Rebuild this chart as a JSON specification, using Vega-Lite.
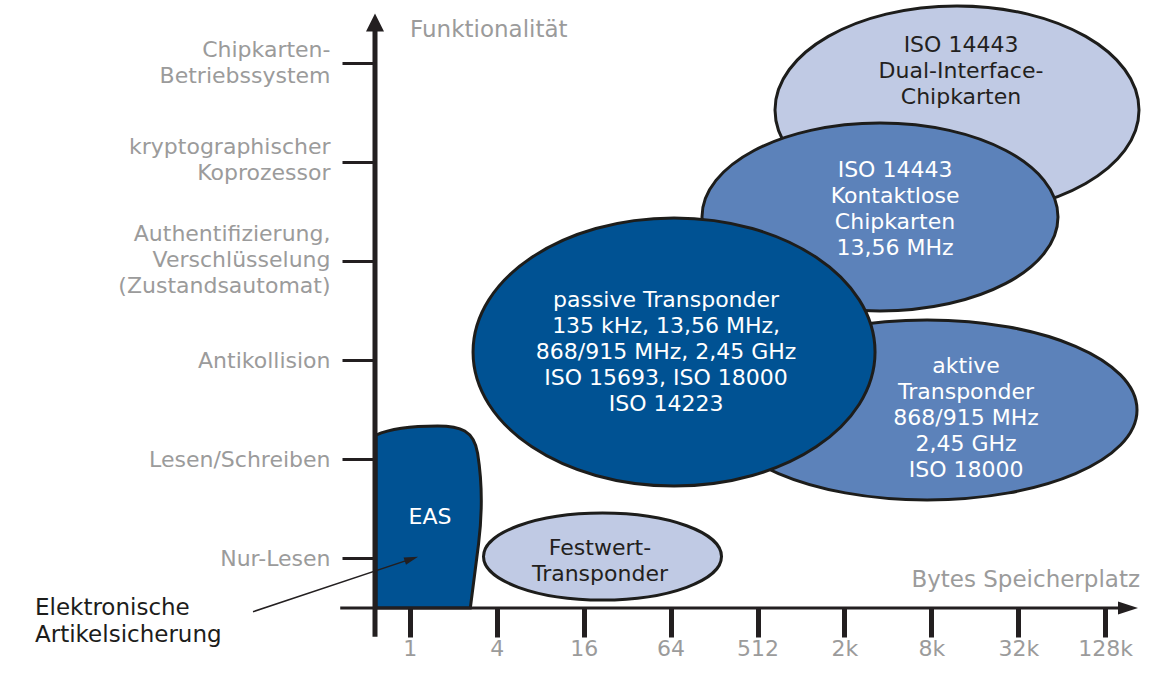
{
  "$schema": "https://vega.github.io/schema/vega-lite/v6.json",
  "width": 765,
  "height": 598,
  "autosize": {"type": "none"},
  "padding": {"left": 375, "top": 10, "right": 14, "bottom": 68},
  "background": "#ffffff",
  "config": {"view": {"stroke": null}, "font": "DejaVu Sans"},
  "datasets": {
    "regions": [
      {"name": "Dual", "x": 7.295, "y": 5.522},
      {"name": "Kontaktlos", "x": 6.409, "y": 4.443},
      {"name": "Aktiv", "x": 6.95, "y": 2.497},
      {"name": "Passiv", "x": 4.04, "y": 3.081},
      {"name": "Festwert", "x": 3.217, "y": 1.019},
      {"name": "EAS", "x": 1.215, "y": 1.418}
    ],
    "regionTexts": [
      {"name": "Dual", "x": 7.341, "y": 6.177, "label": "ISO 14443\nDual-Interface-\nChipkarten", "hintergrund": "hell"},
      {"name": "Kontaktlos", "x": 6.582, "y": 4.917, "label": "ISO 14443\nKontaktlose\nChipkarten\n13,56 MHz", "hintergrund": "dunkel"},
      {"name": "Passiv", "x": 3.948, "y": 3.606, "label": "passive Transponder\n135 kHz, 13,56 MHz,\n868/915 MHz, 2,45 GHz\nISO 15693, ISO 18000\nISO 14223", "hintergrund": "dunkel"},
      {"name": "Aktiv", "x": 7.399, "y": 2.94, "label": "aktive\nTransponder\n868/915 MHz\n2,45 GHz\nISO 18000", "hintergrund": "dunkel"},
      {"name": "Festwert", "x": 3.188, "y": 1.105, "label": "Festwert-\nTransponder", "hintergrund": "hell"},
      {"name": "EAS", "x": 1.233, "y": 1.418, "label": "EAS", "hintergrund": "dunkel"}
    ]
  },
  "encoding": {
    "x": {
      "field": "x",
      "type": "quantitative",
      "scale": {"domain": [0.6, 9.4], "nice": false, "zero": false},
      "axis": {
        "values": [1, 2, 3, 4, 5, 6, 7, 8, 9],
        "labelExpr": "['', '1', '4', '16', '64', '512', '2k', '8k', '32k', '128k'][datum.value]",
        "domain": false,
        "grid": false,
        "tickSize": 29,
        "tickWidth": 5,
        "tickColor": "#231f20",
        "labelFontSize": 22,
        "labelColor": "#9b9b9b",
        "labelPadding": 1,
        "labelFlush": false,
        "labelOverlap": false,
        "title": null
      }
    },
    "y": {
      "field": "y",
      "type": "quantitative",
      "scale": {"domain": [0.5, 6.53], "nice": false, "zero": false},
      "axis": {
        "values": [1, 2, 3, 4, 5, 6],
        "labelExpr": "datum.value == 6 ? ['Chipkarten-', 'Betriebssystem'] : datum.value == 5 ? ['kryptographischer', 'Koprozessor'] : datum.value == 4 ? ['Authentifizierung,', 'Verschlüsselung', '(Zustandsautomat)'] : datum.value == 3 ? 'Antikollision' : datum.value == 2 ? 'Lesen/Schreiben' : 'Nur-Lesen'",
        "domain": false,
        "grid": false,
        "tickSize": 33,
        "tickWidth": 3,
        "tickColor": "#231f20",
        "labelFontSize": 22,
        "labelColor": "#9b9b9b",
        "labelPadding": 12,
        "labelLineHeight": 26,
        "labelLimit": 0,
        "labelAlign": "right",
        "labelBaseline": "middle",
        "labelFlush": false,
        "labelOverlap": false,
        "title": null,
        "labelOffset": {
          "condition": [
            {"test": "datum.value == 6", "value": -13},
            {"test": "datum.value == 5", "value": -15},
            {"test": "datum.value == 4", "value": -27}
          ],
          "value": 0
        }
      }
    }
  },
  "layer": [
    {
      "data": {"name": "regions"},
      "transform": [{"filter": "datum.name === 'Dual'"}],
      "mark": {"type": "point", "shape": "M-1,0C-1,-0.3156,-0.5523,-0.5714,0,-0.5714C0.5523,-0.5714,1,-0.3156,1,0C1,0.3156,0.5523,0.5714,0,0.5714C-0.5523,0.5714,-1,0.3156,-1,0Z", "size": 132496, "filled": true, "fill": "#c0cae4", "stroke": "#1d1d1b", "strokeWidth": 3, "opacity": 1}
    },
    {
      "data": {"name": "regions"},
      "transform": [{"filter": "datum.name === 'Kontaktlos'"}],
      "mark": {"type": "point", "shape": "M-1,0C-1,-0.2917,-0.5523,-0.5281,0,-0.5281C0.5523,-0.5281,1,-0.2917,1,0C1,0.2917,0.5523,0.5281,0,0.5281C-0.5523,0.5281,-1,0.2917,-1,0Z", "size": 126736, "filled": true, "fill": "#5c82ba", "stroke": "#1d1d1b", "strokeWidth": 3, "opacity": 1}
    },
    {
      "data": {"name": "regions"},
      "transform": [{"filter": "datum.name === 'Aktiv'"}],
      "mark": {"type": "point", "shape": "M-1,0C-1,-0.2367,-0.5523,-0.4286,0,-0.4286C0.5523,-0.4286,1,-0.2367,1,0C1,0.2367,0.5523,0.4286,0,0.4286C-0.5523,0.4286,-1,0.2367,-1,0Z", "size": 176400, "filled": true, "fill": "#5c82ba", "stroke": "#1d1d1b", "strokeWidth": 3, "opacity": 1}
    },
    {
      "data": {"name": "regions"},
      "transform": [{"filter": "datum.name === 'Passiv'"}],
      "mark": {"type": "point", "shape": "M-1,0C-1,-0.3682,-0.5523,-0.6667,0,-0.6667C0.5523,-0.6667,1,-0.3682,1,0C1,0.3682,0.5523,0.6667,0,0.6667C-0.5523,0.6667,-1,0.3682,-1,0Z", "size": 161604, "filled": true, "fill": "#005293", "stroke": "#1d1d1b", "strokeWidth": 3, "opacity": 1}
    },
    {
      "data": {"name": "regions"},
      "transform": [{"filter": "datum.name === 'Festwert'"}],
      "mark": {"type": "point", "shape": "M-1,0C-1,-0.2019,-0.5523,-0.3655,0,-0.3655C0.5523,-0.3655,1,-0.2019,1,0C1,0.2019,0.5523,0.3655,0,0.3655C-0.5523,0.3655,-1,0.2019,-1,0Z", "size": 56644, "filled": true, "fill": "#c0cae4", "stroke": "#1d1d1b", "strokeWidth": 3, "opacity": 1}
    },
    {
      "data": {"name": "regions"},
      "transform": [{"filter": "datum.name === 'EAS'"}],
      "mark": {"type": "point", "shape": "M-0.577,1L-0.577,-0.9C-0.4,-0.98,-0.15,-1,0.1,-1C0.35,-1,0.5,-0.95,0.54,-0.7C0.58,-0.45,0.6,-0.1,0.55,0.3L0.46,1Z", "size": 33124, "filled": true, "fill": "#005293", "stroke": "#1d1d1b", "strokeWidth": 3, "opacity": 1}
    },
    {
      "data": {"values": [{"x": 0.2, "y": 0.5, "x2": 9.2, "y2": 0.5}]},
      "mark": {"type": "rule", "strokeWidth": 3, "color": "#231f20"},
      "encoding": {"x2": {"field": "x2"}, "y2": {"field": "y2"}}
    },
    {
      "data": {"values": [{"x": 0.6, "y": 0.21, "x2": 0.6, "y2": 6.33}]},
      "mark": {"type": "rule", "strokeWidth": 5, "color": "#231f20"},
      "encoding": {"x2": {"field": "x2"}, "y2": {"field": "y2"}}
    },
    {
      "data": {"values": [{"x": 0.6, "y": 6.404}]},
      "mark": {"type": "point", "shape": "M0,-1L1,1L-1,1Z", "size": 324, "filled": true, "fill": "#231f20", "strokeWidth": 0, "opacity": 1}
    },
    {
      "data": {"values": [{"x": 9.262, "y": 0.5}]},
      "mark": {"type": "point", "shape": "M1,0L-1,-0.65L-1,0.65Z", "size": 400, "filled": true, "fill": "#231f20", "strokeWidth": 0, "opacity": 1}
    },
    {
      "data": {"values": [{"x": -0.803, "y": 0.463, "x2": 1.019, "y2": 0.995}]},
      "mark": {"type": "rule", "strokeWidth": 1.5, "color": "#231f20"},
      "encoding": {"x2": {"field": "x2"}, "y2": {"field": "y2"}}
    },
    {
      "data": {"values": [{"x": 1.019, "y": 0.995}]},
      "mark": {"type": "point", "shape": "M1,0L-1,-0.55L-1,0.55Z", "size": 196, "angle": -18.4, "filled": true, "fill": "#231f20", "strokeWidth": 0, "opacity": 1}
    },
    {
      "data": {"name": "regionTexts"},
      "mark": {"type": "text", "lineBreak": "\n", "fontSize": 22, "lineHeight": 26, "baseline": "middle", "align": "center"},
      "encoding": {
        "text": {"field": "label"},
        "color": {"field": "hintergrund", "type": "nominal", "scale": {"domain": ["hell", "dunkel"], "range": ["#231f20", "#ffffff"]}, "legend": null}
      }
    },
    {
      "data": {"values": [{"x": 1.003, "y": 6.328, "label": "Funktionalität"}]},
      "mark": {"type": "text", "fontSize": 23, "color": "#9b9b9b", "align": "left", "baseline": "middle"},
      "encoding": {"text": {"field": "label"}}
    },
    {
      "data": {"values": [{"x": 9.4, "y": 0.782, "label": "Bytes Speicherplatz"}]},
      "mark": {"type": "text", "fontSize": 23, "color": "#9b9b9b", "align": "right", "baseline": "middle"},
      "encoding": {"text": {"field": "label"}}
    },
    {
      "data": {"values": [{"x": -3.311, "y": 0.5, "label": "Elektronische\nArtikelsicherung"}]},
      "mark": {"type": "text", "lineBreak": "\n", "fontSize": 23, "lineHeight": 27, "color": "#1d1d1b", "align": "left", "baseline": "middle"},
      "encoding": {"text": {"field": "label"}}
    }
  ]
}
